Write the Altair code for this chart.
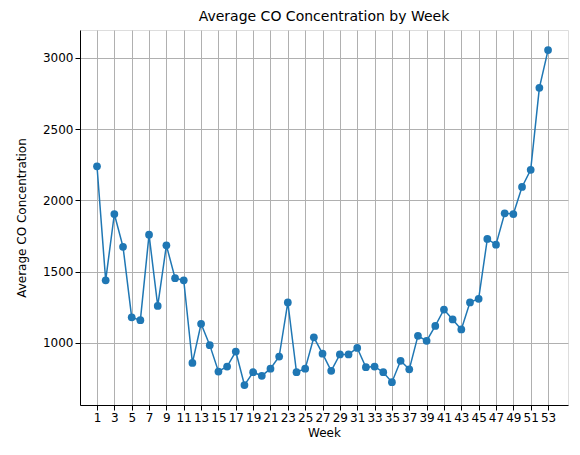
import altair as alt
import pandas as pd

weeks = list(range(1, 54))
co = [2240, 1440, 1905, 1675, 1180, 1160, 1760, 1260, 1685, 1455, 1440, 860, 1135, 985,
      800, 835, 940, 705, 795, 770, 820, 905, 1285, 795, 820, 1040, 925, 805, 920, 920,
      965, 830, 835, 795, 725, 875, 815, 1050, 1015, 1120, 1235, 1165, 1095, 1285, 1310,
      1730, 1690, 1910, 1905, 2095, 2215, 2790, 3055]
ticks = list(range(1, 54, 2))

df = pd.DataFrame({"Week": weeks, "CO": co})

x = alt.X("Week:Q", scale=alt.Scale(domain=[-0.96, 55.3], nice=False, zero=False),
          axis=alt.Axis(values=ticks, labelOverlap=False, title="Week", grid=True,
                        gridColor="#b0b0b0", labelFontSize=12, titleFontSize=12,
                        labelColor="black", titleColor="black", titleFontWeight="normal",
                        domainColor="black", tickColor="black", labelFlush=False,
                        titlePadding=4))
y = alt.Y("CO:Q", scale=alt.Scale(domain=[565, 3196], nice=False, zero=False),
          axis=alt.Axis(values=[1000, 1500, 2000, 2500, 3000], format="d",
                        title="Average CO Concentration",
                        grid=True, gridColor="#b0b0b0", labelFontSize=12, titleFontSize=12,
                        labelColor="black", titleColor="black", titleFontWeight="normal",
                        domainColor="black", tickColor="black", titlePadding=14))

base = alt.Chart(df)
line = base.mark_line(color="#1f77b4", strokeWidth=1.5).encode(x=x, y=y)
pts = base.mark_circle(color="#1f77b4", size=60, opacity=1).encode(x=x, y=y)

chart = (line + pts).properties(
    width=488, height=375,
    title=alt.TitleParams("Average CO Concentration by Week", fontSize=14,
                          fontWeight="normal", color="black", offset=6),
    autosize=alt.AutoSizeParams(type="none"),
    padding={"left": 72, "top": 22, "right": 4, "bottom": 42},
).configure_view(stroke="black").configure(font="DejaVu Sans")

chart.save("out.html", embed_options={"renderer": "svg", "actions": False})
